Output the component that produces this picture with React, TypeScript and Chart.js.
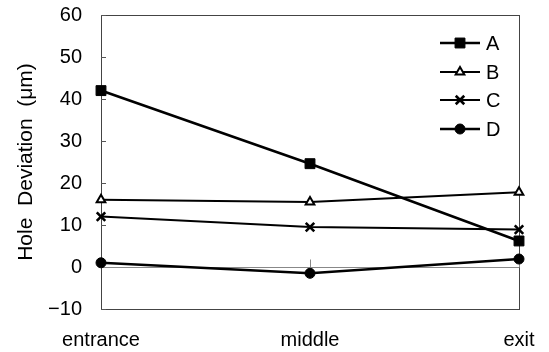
import React, { useEffect, useRef } from "react";
import { Chart, registerables } from "chart.js";
import { drawPoint } from "chart.js/helpers";

Chart.register(...registerables);

const categories = ["entrance", "middle", "exit"];
const seriesA = [42, 24.6, 6.2];
const seriesB = [16, 15.5, 17.8];
const seriesC = [12, 9.5, 8.9];
const seriesD = [1, -1.5, 1.9];
const seriesNames = ["A", "B", "C", "D"];
const yTicks = [-10, 0, 10, 20, 30, 40, 50, 60];

const FONT = "'Liberation Sans', Arial, Helvetica, sans-serif";

const pointDefs = [
  { pointStyle: "rect", radius: 7, borderWidth: 1, fill: "#000", lineWidth: 2.6 },
  { pointStyle: "triangle", radius: 5, borderWidth: 2, fill: "#fff", lineWidth: 2 },
  { pointStyle: "crossRot", radius: 6, borderWidth: 2.6, fill: "#000", lineWidth: 2 },
  { pointStyle: "circle", radius: 5, borderWidth: 1, fill: "#000", lineWidth: 2.4 },
];

const framePlugin = {
  id: "frame",
  beforeDatasetsDraw(chart: any) {
    const { ctx, chartArea } = chart;
    const y = chart.scales.y;
    const x = chart.scales.x;
    ctx.save();
    ctx.strokeStyle = "#444";
    ctx.lineWidth = 1;
    ctx.strokeRect(
      Math.round(chartArea.left) + 0.5,
      Math.round(chartArea.top) + 0.5,
      Math.round(chartArea.right - chartArea.left),
      Math.round(chartArea.bottom - chartArea.top)
    );
    ctx.strokeStyle = "#555";
    yTicks.forEach((v) => {
      const py = Math.round(y.getPixelForValue(v)) + 0.5;
      ctx.beginPath();
      ctx.moveTo(chartArea.left, py);
      ctx.lineTo(chartArea.left + 5, py);
      ctx.stroke();
    });
    const zy = Math.round(y.getPixelForValue(0)) + 0.5;
    ctx.strokeStyle = "#888";
    ctx.beginPath();
    ctx.moveTo(chartArea.left, zy);
    ctx.lineTo(chartArea.right, zy);
    ctx.stroke();
    categories.forEach((_, i) => {
      const px = Math.round(x.getPixelForValue(i)) + 0.5;
      ctx.beginPath();
      ctx.moveTo(px, zy);
      ctx.lineTo(px, zy - 8);
      ctx.stroke();
    });
    ctx.restore();
  },
  afterDraw(chart: any) {
    const { ctx } = chart;
    ctx.save();
    const rows = [43, 72, 100, 129];
    seriesNames.forEach((name, i) => {
      const d = pointDefs[i];
      const yy = rows[i];
      ctx.strokeStyle = "#000";
      ctx.lineWidth = d.lineWidth;
      ctx.beginPath();
      ctx.moveTo(440, yy);
      ctx.lineTo(480, yy);
      ctx.stroke();
      ctx.fillStyle = d.fill;
      ctx.strokeStyle = "#000";
      ctx.lineWidth = d.borderWidth;
      drawPoint(ctx, { pointStyle: d.pointStyle, radius: d.radius, rotation: 0, borderWidth: d.borderWidth } as any, 460, yy);
      ctx.fillStyle = "#000";
      ctx.font = `20px ${FONT}`;
      ctx.textBaseline = "middle";
      ctx.textAlign = "left";
      ctx.fillText(name, 486, yy + 1);
    });
    ctx.restore();
  },
};

export default function App() {
  const ref = useRef<HTMLCanvasElement | null>(null);
  useEffect(() => {
    const series = [seriesA, seriesB, seriesC, seriesD];
    const chart = new Chart(ref.current as HTMLCanvasElement, {
      type: "line",
      data: {
        labels: categories,
        datasets: series.map((data, i) => ({
          label: seriesNames[i],
          data,
          borderColor: "#000",
          borderWidth: pointDefs[i].lineWidth,
          backgroundColor: pointDefs[i].fill,
          pointStyle: pointDefs[i].pointStyle as any,
          pointRadius: pointDefs[i].radius,
          pointBorderWidth: pointDefs[i].borderWidth,
          pointBorderColor: "#000",
          pointBackgroundColor: pointDefs[i].fill,
          tension: 0,
          fill: false,
          clip: false as any,
        })),
      },
      options: {
        animation: false,
        responsive: true,
        maintainAspectRatio: false,
        layout: { padding: { top: 15, right: 30, left: 0, bottom: 0 } },
        plugins: { legend: { display: false }, tooltip: { enabled: false } },
        scales: {
          x: {
            type: "category",
            offset: false,
            grid: { display: false, drawTicks: false },
            border: { display: false },
            ticks: {
              color: "#000",
              font: { family: FONT, size: 20 },
              padding: 19,
              maxRotation: 0,
              autoSkip: false,
            },
            afterFit: (s: any) => {
              s.height = 43;
              s.paddingLeft = 0;
              s.paddingRight = 0;
            },
          },
          y: {
            min: -10,
            max: 60,
            grid: { display: false, drawTicks: false },
            border: { display: false },
            ticks: {
              stepSize: 10,
              color: "#000",
              font: { family: FONT, size: 20 },
              padding: 19,
              callback: (v: any) => String(v).replace("-", "\u2212"),
            },
            title: {
              display: true,
              text: "Hole  Deviation  (\u03bcm)",
              color: "#000",
              font: { family: FONT, size: 21 },
              padding: { top: 14, bottom: 0 },
            },
            afterFit: (s: any) => {
              s.width = 101;
              s.paddingTop = 0;
              s.paddingBottom = 0;
            },
          },
        },
      },
      plugins: [framePlugin],
    });
    return () => chart.destroy();
  }, []);
  return (
    <div style={{ position: "absolute", left: 0, top: 0, width: 549, height: 352, background: "#fff" }}>
      <canvas ref={ref} />
    </div>
  );
}
